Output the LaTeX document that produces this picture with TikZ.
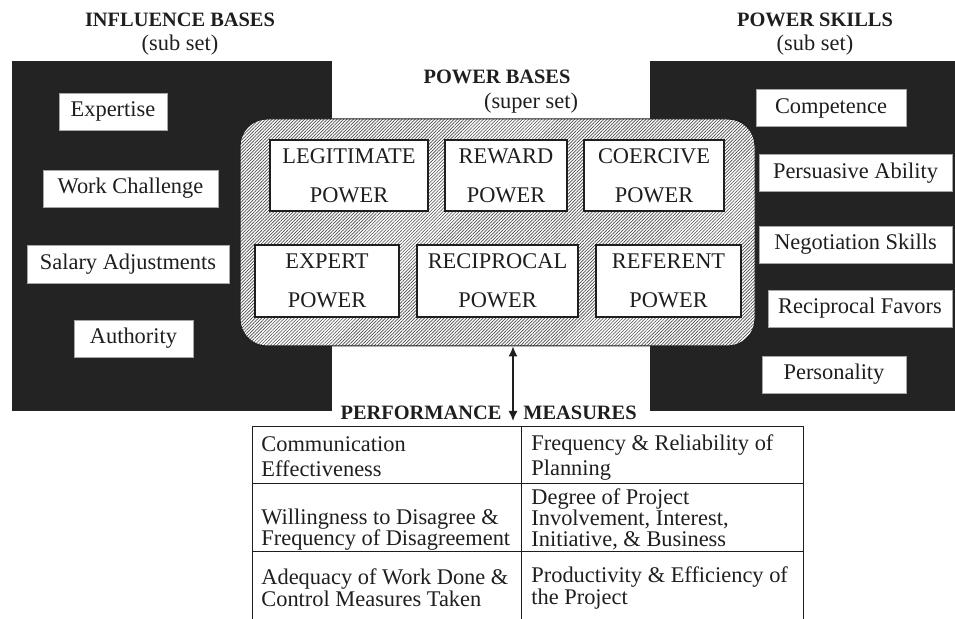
\documentclass[tikz,border=0pt]{standalone}
\usepackage{fontspec}
\setmainfont{Liberation Serif}
\usetikzlibrary{arrows.meta, patterns.meta}

\definecolor{ink}{HTML}{1E1E1E}
\definecolor{panel}{HTML}{232323}

\begin{document}
\begin{tikzpicture}[x=0.5pt, y=-0.5pt,
    >={Latex[length=5pt, width=4.5pt]},
    every node/.style={font=\fontsize{11.2}{13}\selectfont},
    title/.style={font=\fontsize{10.2}{12}\selectfont\bfseries, text=ink, inner sep=0pt},
    sub/.style={text=ink, inner sep=0pt},
    base/.style={draw=ink, fill=white, line width=0.7pt, align=center,
        inner sep=0pt, minimum height=35.5pt, text=ink,
        font=\fontsize{11.2}{19.5}\selectfont},
    item/.style={draw=gray!70, fill=white, line width=0.4pt, inner sep=0pt,
        minimum height=18.5pt, text height=7.5pt, text depth=2pt, text=ink},
    cell/.style={anchor=west, align=left, inner sep=0pt, text=ink}]

    \useasboundingbox (0,0) rectangle (955,619);

    % the two dark panels
    \fill[panel] (12,61) rectangle (332,411);
    \fill[panel] (650,61) rectangle (955,411);

    % hatched super set
    \node[draw=ink, line width=0.5pt, rounded corners=13.5pt,
        preaction={fill=white},
        pattern={Lines[angle=45, distance=1.15pt, line width=0.33pt]},
        pattern color=ink!80,
        minimum width=257.5pt, minimum height=113.5pt] (bases) at (497.5,232.5) {};

    \node[base, minimum width=79pt]   (legit) at (349,175.5) {LEGITIMATE\\POWER};
    \node[base, minimum width=61pt]   (reward) at (506,175.5) {REWARD\\POWER};
    \node[base, minimum width=70pt]   (coerce) at (654,175.5) {COERCIVE\\POWER};
    \node[base, minimum width=72pt, minimum height=36pt] (expert) at (327,281) {EXPERT\\POWER};
    \node[base, minimum width=80.5pt, minimum height=36pt] (recip) at (497.5,281) {RECIPROCAL\\POWER};
    \node[base, minimum width=72.5pt, minimum height=36pt] (refer) at (668.5,281) {REFERENT\\POWER};

    % influence bases
    \node[item, minimum width=54pt]   (expertise) at (113,111.5) {Expertise};
    \node[item, minimum width=87.5pt] (challenge) at (130.5,188.5) {Work Challenge};
    \node[item, minimum width=101pt, minimum height=19pt] (salary) at (128,264) {Salary Adjustments};
    \node[item, minimum width=59.5pt] (authority) at (133.5,338.5) {Authority};

    % power skills
    \node[item, minimum width=75pt]   (compet) at (831,108) {Competence};
    \node[item, minimum width=96.5pt] (persuade) at (855.5,173) {Persuasive Ability};
    \node[item, minimum width=96.5pt] (negot) at (855.5,244.5) {Negotiation Skills};
    \node[item, minimum width=92pt]   (favors) at (860,308.5) {Reciprocal Favors};
    \node[item, minimum width=72pt]   (person) at (834,374.5) {Personality};

    % headings
    \node[title] (infl) at (180,20) {INFLUENCE BASES};
    \node[sub] (inflsub) at (180,45) {(sub set)};
    \node[title] (skills) at (815,20) {POWER SKILLS};
    \node[sub] (skillsub) at (815,45) {(sub set)};
    \node[title] (pbases) at (497,77) {POWER BASES};
    \node[sub] (pbasesub) at (531,103) {(super set)};
    \node[title] (perf) at (421,413) {PERFORMANCE};
    \node[title] (meas) at (580,413) {MEASURES};

    % measures table
    \coordinate (tab) at (513,427);
    \draw[ink, line width=0.5pt] (252,619) -- (252,427) -- (803,427) -- (803,619)
        (252,484) -- (803,484) (252,552) -- (803,552) (521,427) -- (521,619);

    \node[cell, font=\fontsize{11.2}{12.5}\selectfont] (c11) at (261,457) {Communication\\Effectiveness};
    \node[cell, font=\fontsize{11.2}{12.5}\selectfont] (c12) at (531,458) {Frequency \& Reliability of\\Planning};
    \node[cell, font=\fontsize{11.2}{10.5}\selectfont] (c21) at (261,530) {Willingness to Disagree \&\\Frequency of Disagreement};
    \node[cell, font=\fontsize{11.2}{10.5}\selectfont] (c22) at (531,519) {Degree of Project\\Involvement, Interest,\\Initiative, \& Business};
    \node[cell, font=\fontsize{11.2}{11}\selectfont] (c31) at (261,588) {Adequacy of Work Done \&\\Control Measures Taken};
    \node[cell, font=\fontsize{11.2}{11}\selectfont] (c32) at (531,588) {Productivity \& Efficiency of\\the Project};

    \draw[<->, ink, line width=0.75pt, shorten >=3pt] (tab |- bases.south) -- (tab);
\end{tikzpicture}
\end{document}
